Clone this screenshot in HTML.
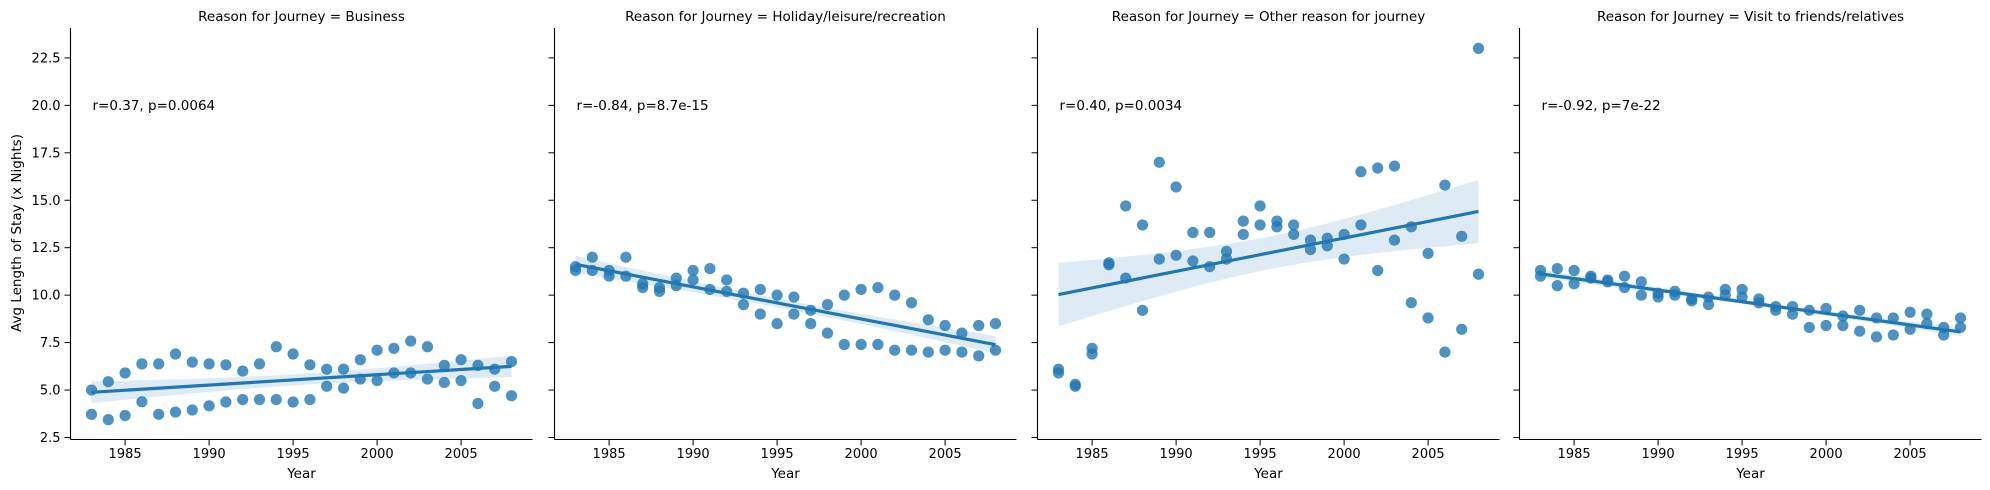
<!DOCTYPE html>
<html><head><meta charset="utf-8"><style>
html,body{margin:0;padding:0;background:#fff;}
svg{display:block;font-family:"DejaVu Sans","Liberation Sans",sans-serif;}
</style></head><body>
<svg id="chart" width="1990" height="490" viewBox="0 0 1990 490" xmlns="http://www.w3.org/2000/svg"></svg>
<script>
const years = [1983,1984,1985,1986,1987,1988,1989,1990,1991,1992,1993,1994,1995,1996,1997,1998,1999,2000,2001,2002,2003,2004,2005,2006,2007,2008];
const panelTitles = ["Reason for Journey = Business","Reason for Journey = Holiday/leisure/recreation","Reason for Journey = Other reason for journey","Reason for Journey = Visit to friends/relatives"];
const statLabels = ["r=0.37, p=0.0064","r=-0.84, p=8.7e-15","r=0.40, p=0.0034","r=-0.92, p=7e-22"];
const businessA = [5.0,5.44,5.9,6.38,6.38,6.9,6.47,6.38,6.33,6.0,6.38,7.28,6.9,6.33,6.1,6.1,6.6,7.1,7.2,7.58,7.28,6.3,6.6,6.3,6.1,6.5];
const businessB = [3.72,3.44,3.66,4.38,3.72,3.84,3.95,4.17,4.37,4.5,4.5,4.5,4.37,4.5,5.2,5.1,5.58,5.5,5.9,5.9,5.58,5.4,5.5,4.29,5.2,4.7];
const holidayA = [11.5,12.0,11.3,12.0,10.6,10.4,10.9,11.3,11.4,10.8,10.1,10.3,10.0,9.9,9.2,9.5,10.0,10.3,10.4,10.0,9.6,8.7,8.4,8.0,8.4,8.5];
const holidayB = [11.3,11.3,11.0,11.0,10.4,10.2,10.5,10.8,10.3,10.2,9.5,9.0,8.5,9.0,8.5,8.0,7.4,7.4,7.4,7.1,7.1,7.0,7.1,7.0,6.8,7.1];
const otherA = [6.1,5.3,7.2,11.7,14.7,13.7,17.0,15.7,13.3,13.3,12.3,13.9,14.7,13.9,13.7,12.9,13.0,13.2,16.5,16.7,16.8,13.6,12.2,15.8,13.1,23.0];
const otherB = [5.9,5.2,6.9,11.6,10.9,9.2,11.9,12.1,11.8,11.5,11.9,13.2,13.7,13.6,13.2,12.4,12.6,11.9,13.7,11.3,12.9,9.6,8.8,7.0,8.2,11.1];
const visitA = [11.3,11.4,11.3,11.0,10.8,11.0,10.7,10.1,10.2,9.8,9.9,10.3,10.3,9.8,9.4,9.4,9.2,9.3,8.9,9.2,8.8,8.8,9.1,9.0,8.3,8.8];
const visitB = [11.0,10.5,10.6,10.9,10.7,10.4,10.0,9.9,10.0,9.7,9.5,10.0,9.9,9.6,9.2,9.0,8.3,8.4,8.4,8.1,7.8,7.9,8.2,8.5,7.9,8.3];
const yTicks = [2.5,5.0,7.5,10.0,12.5,15.0,17.5,20.0,22.5];
const xTicks = [1985,1990,1995,2000,2005];

const series = [[businessA,businessB],[holidayA,holidayB],[otherA,otherB],[visitA,visitB]];
const NS="http://www.w3.org/2000/svg";
const svg=document.getElementById('chart');
const panelLefts=[70.5,554.5,1037.5,1519.5], PW=462, TOP=28, BOT=439.5;
const X0=1981.75, X1=2009.25;
function yScale(v){return 437.5-(v-2.5)*18.98;}
function mk(tag,attrs,parent){const e=document.createElementNS(NS,tag);for(const k in attrs)e.setAttribute(k,attrs[k]);(parent||svg).appendChild(e);return e;}

const ylab=mk('text',{x:21,y:233,'font-size':13.5,'text-anchor':'middle',transform:'rotate(-90 21 233)',fill:'#000'});


ylab.textContent='Avg Length of Stay (x Nights)';

series.forEach((pair,pi)=>{
  const L=panelLefts[pi];
  const xs=v=>L+(v-X0)/(X1-X0)*PW;
  const g=mk('g',{});
  
  
  const px=[],py=[];
  pair.forEach(s=>s.forEach((v,i)=>{px.push(years[i]);py.push(v);}));
  const n=px.length, mx=px.reduce((a,b)=>a+b)/n, my=py.reduce((a,b)=>a+b)/n;
  let sxx=0,sxy=0;for(let i=0;i<n;i++){sxx+=(px[i]-mx)**2;sxy+=(px[i]-mx)*(py[i]-my);}
  const b=sxy/sxx,a=my-b*mx;
  let sse=0;for(let i=0;i<n;i++)sse+=(py[i]-a-b*px[i])**2;
  const s=Math.sqrt(sse/(n-2)), t=2.01;
  const xa=years[0], xb=years[years.length-1];
  const up=[],lo=[];
  for(let k=0;k<=50;k++){const x=xa+(xb-xa)*k/50;const f=a+b*x;const h=t*s*Math.sqrt(1/n+(x-mx)**2/sxx);
    up.push(xs(x).toFixed(1)+','+yScale(f+h).toFixed(1));lo.unshift(xs(x).toFixed(1)+','+yScale(f-h).toFixed(1));}
  const band=mk('polygon',{points:up.concat(lo).join(' '),fill:'#1f77b4','fill-opacity':0.15,stroke:'none'},g);
  
  
  pair.forEach((sv,si)=>sv.forEach((v,i)=>{
    const c=mk('circle',{cx:xs(years[i]),cy:yScale(v),r:5.6,fill:'#1f77b4','fill-opacity':0.8},g);
    
    
  }));
  const line=mk('line',{x1:xs(xa),y1:yScale(a+b*xa),x2:xs(xb),y2:yScale(a+b*xb),stroke:'#1f77b4','stroke-width':3.2},g);
  
  
  mk('line',{x1:L,y1:TOP,x2:L,y2:BOT,stroke:'#000','stroke-width':1.1},g);
  mk('line',{x1:L,y1:BOT,x2:L+PW,y2:BOT,stroke:'#000','stroke-width':1.1},g);
  yTicks.forEach(v=>{
    mk('line',{x1:L-6,y1:yScale(v),x2:L,y2:yScale(v),stroke:'#000','stroke-width':1},g);
    if(pi===0){const tl=mk('text',{x:L-10,y:yScale(v)+4.5,'font-size':13,'text-anchor':'end'},g);
      
      
      tl.textContent=v.toFixed(1);}
  });
  xTicks.forEach(v=>{
    mk('line',{x1:xs(v),y1:BOT,x2:xs(v),y2:BOT+6,stroke:'#000','stroke-width':1},g);
    const tl=mk('text',{x:xs(v),y:458,'font-size':13,'text-anchor':'middle'},g);
    
    
    tl.textContent=v;
  });
  const xl=mk('text',{x:L+PW/2,y:478,'font-size':13.5,'text-anchor':'middle'},g);
  
  
  xl.textContent='Year';
  const tt=mk('text',{x:L+PW/2,y:21,'font-size':13.5,'text-anchor':'middle'},g);
  
  
  tt.textContent=panelTitles[pi];
  const st=mk('text',{x:L+22,y:110,'font-size':13.5},g);
  
  
  st.textContent=statLabels[pi];
});
</script>
</body></html>
